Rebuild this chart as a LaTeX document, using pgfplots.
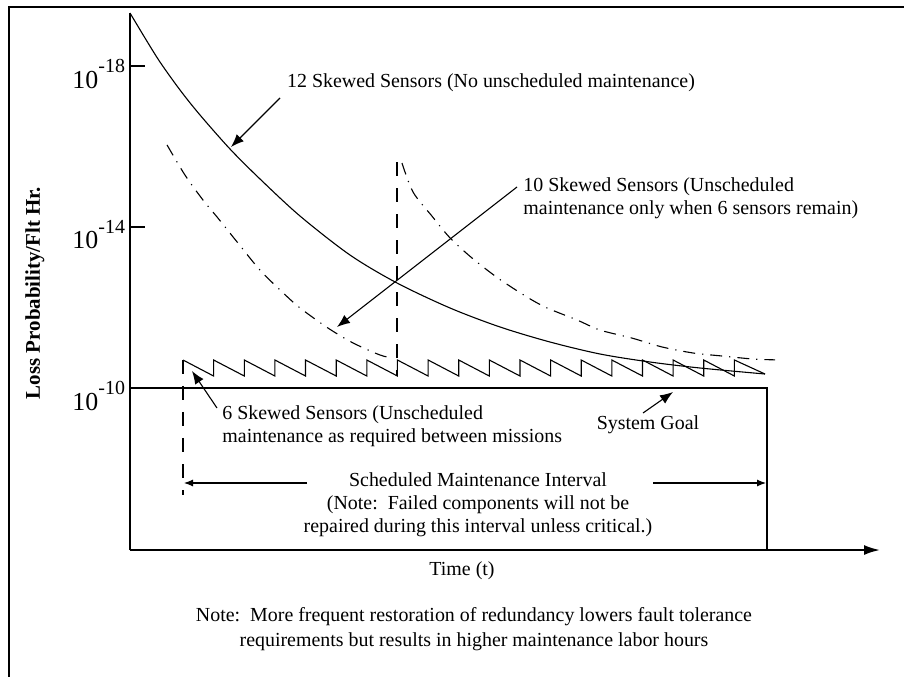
\documentclass[border=0pt]{standalone}
\usepackage{pgfplots}
\usepackage{pgfplotstable}
\pgfplotsset{compat=1.18}
\usepackage{fontspec}
\setmainfont{Liberation Serif}
\usetikzlibrary{arrows.meta}

% x: time (picture units), y: -log10 of loss probability per flight hour
\pgfplotstableread{
x y
130 19.317
145 18.696
160 18.099
180 17.404
200 16.783
230 15.938
260 15.193
300 14.273
350 13.304
397 12.609
450 11.988
500 11.516
550 11.143
600 10.845
650 10.646
700 10.497
765 10.348
}\twelve

\pgfplotstableread{
x y
167 16.04
185 15.29
203 14.67
218 14.22
238 13.60
260 12.93
282 12.39
300 11.99
328 11.49
353 11.12
380 10.82
392 10.75
}\tenA

\pgfplotstableread{
x y
402 15.59
413 14.87
432 14.27
450 13.73
472 13.23
498 12.73
527 12.26
547 11.99
577 11.69
600 11.44
632 11.24
662 11.02
693 10.87
720 10.80
753 10.72
775 10.70
}\tenB

\pgfplotstableread{
x y
183.0 10.696
213.6 10.298
213.6 10.696
244.3 10.298
244.3 10.696
274.9 10.298
274.9 10.696
305.5 10.298
305.5 10.696
336.2 10.298
336.2 10.696
366.8 10.298
366.8 10.696
397.4 10.298
397.4 10.696
428.1 10.298
428.1 10.696
458.7 10.298
458.7 10.696
489.3 10.298
489.3 10.696
520.0 10.298
520.0 10.696
550.6 10.298
550.6 10.696
581.2 10.298
581.2 10.696
611.8 10.298
611.8 10.696
642.5 10.298
642.5 10.696
673.1 10.298
673.1 10.696
703.7 10.298
703.7 10.696
734.4 10.298
734.4 10.696
765.0 10.348
}\six

\newcommand{\pw}[1]{10\raisebox{0.58em}{\fontsize{10}{10}\selectfont -#1}}

\begin{document}
\begin{tikzpicture}[x=0.5bp,y=-0.5bp,
  ann/.style={line width=0.55bp,-{Latex[length=6.5bp,width=5bp]}},
  ann2/.style={line width=0.55bp,-{Latex[length=4.5bp,width=3.5bp]}},
  txt/.style={font=\fontsize{10}{11.5}\selectfont}]
\useasboundingbox (0,0) rectangle (904,677);
\draw[line width=1.3bp] (9,677) -- (9,7) -- (904,7);
\begin{axis}[
  at={(65bp,-275bp)}, anchor=south west,
  scale only axis, width=375bp, height=268.5bp,
  xmin=130, xmax=880, ymin=5.975, ymax=19.317,
  enlargelimits=false, clip=false,
  axis x line=bottom, axis y line=left,
  x axis line style={line width=1bp,-{Latex[length=8bp,width=5bp]}},
  y axis line style={line width=1bp,-},
  xtick=\empty,
  ytick={10,14,18},
  yticklabels={\pw{10},\pw{14},\pw{18}},
  tick align=inside,
  major tick length=7.5bp,
  tick style={line width=1bp,black},
  yticklabel style={font=\fontsize{13}{14}\selectfont, yshift=-4bp, xshift=1bp},
  ylabel={\bfseries Loss Probability/Flt Hr.},
  ylabel style={at={(axis description cs:-0.1267,0.4786)}, anchor=center,
    font=\fontsize{10.5}{12}\selectfont},
  xlabel={Time (t)},
  xlabel style={at={(axis description cs:0.4427,-0.039)}, anchor=center,
    font=\fontsize{10}{12}\selectfont},
]
\addplot[black, line width=0.55bp, smooth] table {\twelve};
\addplot[black, line width=0.55bp, smooth, dash pattern=on 6bp off 3.5bp on 0.6bp off 3.5bp] table {\tenA};
\addplot[black, line width=0.55bp, smooth, dash pattern=on 6bp off 3.5bp on 0.6bp off 3.5bp] table {\tenB};
\addplot[black, line width=0.55bp, sharp plot] table {\six};
\addplot[black, line width=0.55bp, dash pattern=on 7bp off 6bp] coordinates {(397,15.615) (397,10.323)};
\addplot[black, line width=0.55bp, dash pattern=on 7bp off 6bp] coordinates {(183,10.696) (183,7.342)};
\addplot[black, line width=1bp] coordinates {(130,10) (767,10) (767,5.975)};
\end{axis}

\node[txt] at (491,83) {12 Skewed Sensors (No unscheduled maintenance)};
\draw[ann] (280,98) -- (231,147);
\node[txt, anchor=west, align=left, inner sep=0pt] at (523,198) {10 Skewed Sensors (Unscheduled\\maintenance only when 6 sensors remain)};
\draw[ann] (517,187) -- (337,327);
\node[txt, anchor=west, align=left, inner sep=0pt] at (222,426) {6 Skewed Sensors (Unscheduled\\maintenance as required between missions};
\draw[ann] (217,408) -- (192,371);
\node[txt] at (648,425) {System Goal};
\draw[ann] (643,413) -- (673,392);
\node[txt, align=center] at (478,505) {Scheduled Maintenance Interval\\(Note:\ \ Failed components will not be\\repaired during this interval unless critical.)};
\draw[ann2] (307,483) -- (184,483);
\draw[ann2] (653,483) -- (766,483);
\node[font=\fontsize{10}{12.5}\selectfont, align=center] at (474,629) {Note:\ \ More frequent restoration of redundancy lowers fault tolerance\\requirements but results in higher maintenance labor hours};
\end{tikzpicture}
\end{document}
